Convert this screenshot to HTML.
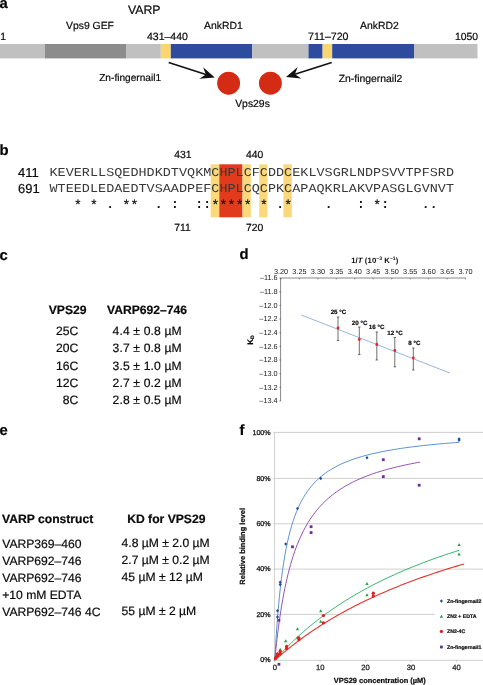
<!DOCTYPE html>
<html><head><meta charset="utf-8"><title>VARP Vps29 figure</title>
<style>
html,body{margin:0;padding:0;background:#fff;}
body{width:483px;height:685px;overflow:hidden;}
svg{display:block;will-change:transform;}
text{font-family:"Liberation Sans",sans-serif;fill:#0a0a0a;stroke:#0a0a0a;stroke-width:0.2px;text-rendering:geometricPrecision;}
.b{font-weight:bold;}
.pl{font-size:14.8px;font-weight:bold;fill:#000;}
.a{font-size:10.4px;}
.t{font-size:12.15px;}
.mono{font-family:"Liberation Mono",monospace;font-size:12px;fill:#383838;stroke:none;}
.ax{font-size:7.3px;stroke:none;fill:#1a1a1a;}
.m{text-anchor:middle;}
.e{text-anchor:end;}
</style></head><body>
<svg width="483" height="685" viewBox="0 0 483 685">
<rect width="483" height="685" fill="#fff"/>

<text class="pl" x="-0.4" y="8.2">a</text>
<text x="128" y="13.6" style="font-size:12.3px">VARP</text>
<rect x="0" y="44" width="45.0" height="14.4" fill="#c0c0c0"/>
<rect x="45" y="44" width="81.5" height="14.4" fill="#8c8c8c"/>
<rect x="126.5" y="44" width="34.3" height="14.4" fill="#c0c0c0"/>
<rect x="160.8" y="44" width="10.0" height="14.4" fill="#fad670"/>
<rect x="170.8" y="44" width="81.5" height="14.4" fill="#2f4b9e"/>
<rect x="252.3" y="44" width="56.2" height="14.4" fill="#c0c0c0"/>
<rect x="308.5" y="44" width="14.1" height="14.4" fill="#2f4b9e"/>
<rect x="322.6" y="44" width="9.6" height="14.4" fill="#fad670"/>
<rect x="332.2" y="44" width="81.8" height="14.4" fill="#2f4b9e"/>
<rect x="414" y="44" width="63.5" height="14.4" fill="#c0c0c0"/>
<text class="a" x="66" y="28.6">Vps9 GEF</text>
<text class="a" x="0.3" y="40.3">1</text>
<text class="a" x="147" y="40.3" style="font-size:10.5px">431–440</text>
<text class="a" x="204" y="28.6">AnkRD1</text>
<text class="a" x="308" y="40.3" style="font-size:10.6px">711–720</text>
<text class="a" x="360" y="28.6">AnkRD2</text>
<text class="a" x="455" y="40.3">1050</text>
<text class="a" x="99.2" y="81.4" style="font-size:10.15px">Zn-fingernail1</text>
<text class="a" x="338.7" y="81.5">Zn-fingernail2</text>
<text class="a" x="235.2" y="107.3">Vps29s</text>
<circle cx="228.6" cy="83.2" r="11.45" fill="#d42c14"/>
<circle cx="270.4" cy="83.2" r="11.45" fill="#d42c14"/>
<line x1="168.7" y1="62.5" x2="205.9" y2="74.5" stroke="#111" stroke-width="1.6"/>
<polygon points="214.8,77.4 199.4,78.7 205.9,74.5 203.1,67.3" fill="#111"/>
<line x1="331.7" y1="62.5" x2="294.9" y2="74.2" stroke="#111" stroke-width="1.6"/>
<polygon points="286.0,77.0 297.7,67.0 294.9,74.2 301.3,78.4" fill="#111"/>
<text class="pl" x="-0.6" y="154.7">b</text>
<rect x="210.7" y="164.3" width="8.6" height="53.0" fill="#fbd879"/>
<rect x="219.3" y="164.3" width="23.2" height="53.0" fill="#e23a1c"/>
<rect x="242.5" y="164.3" width="8.3" height="53.0" fill="#fbd879"/>
<rect x="259.3" y="164.3" width="8.1" height="53.0" fill="#fbd879"/>
<rect x="283.4" y="164.3" width="8.4" height="53.0" fill="#fbd879"/>
<text class="mono m" transform="scale(1.12,1)" x="47.81 55.03 62.25 69.48 76.70 83.92 91.15 98.37 105.59 112.82 120.04 127.26 134.49 141.71 148.93 156.16 163.38 170.60 177.83 185.05 192.27 199.50 206.72 213.94 221.17 228.39 235.61 242.83 250.06 257.28 264.50 271.73 278.95 286.17 293.40 300.62 307.84 315.07 322.29 329.51 336.74 343.96 351.18 358.41 365.63 372.85 380.08 387.30 394.52 401.75" y="176">KEVERLLSQEDHDKDTVQKMCHPLCFCDDCEKLVSGRLNDPSVVTPFSRD</text>
<text class="mono m" transform="scale(1.12,1)" x="47.81 55.03 62.25 69.48 76.70 83.92 91.15 98.37 105.59 112.82 120.04 127.26 134.49 141.71 148.93 156.16 163.38 170.60 177.83 185.05 192.27 199.50 206.72 213.94 221.17 228.39 235.61 242.83 250.06 257.28 264.50 271.73 278.95 286.17 293.40 300.62 307.84 315.07 322.29 329.51 336.74 343.96 351.18 358.41 365.63 372.85 380.08 387.30 394.52 401.75" y="192.3">WTEEDLEDAEDTVSAADPEFCHPLCQCPKCAPAQKRLAKVPASGLGVNVT</text>
<text x="18" y="176.5" style="font-size:13px">411</text>
<text x="18" y="192.8" style="font-size:13px">691</text>
<text class="a" x="174.3" y="158">431</text>
<text class="a" x="246" y="158">440</text>
<text class="a" x="174.3" y="231">711</text>
<text class="a" x="246" y="231">720</text>
<text class="mono m" x="77.81" y="209.0" style="font-size:13px;fill:#111;stroke:#111;stroke-width:0.25px">*</text>
<text class="mono m" x="94.00" y="209.0" style="font-size:13px;fill:#111;stroke:#111;stroke-width:0.25px">*</text>
<text class="mono m" x="110.17" y="208.2" style="font-size:13px;fill:#111;font-weight:bold">.</text>
<text class="mono m" x="126.36" y="209.0" style="font-size:13px;fill:#111;stroke:#111;stroke-width:0.25px">*</text>
<text class="mono m" x="134.44" y="209.0" style="font-size:13px;fill:#111;stroke:#111;stroke-width:0.25px">*</text>
<text class="mono m" x="158.72" y="208.2" style="font-size:13px;fill:#111;font-weight:bold">.</text>
<text class="mono m" x="174.89" y="208.2" style="font-size:13px;fill:#111;font-weight:bold">:</text>
<text class="mono m" x="199.16" y="208.2" style="font-size:13px;fill:#111;font-weight:bold">:</text>
<text class="mono m" x="207.25" y="208.2" style="font-size:13px;fill:#111;font-weight:bold">:</text>
<text class="mono m" x="215.34" y="209.0" style="font-size:13px;fill:#111;stroke:#111;stroke-width:0.25px">*</text>
<text class="mono m" x="223.43" y="209.0" style="font-size:13px;fill:#111;stroke:#111;stroke-width:0.25px">*</text>
<text class="mono m" x="231.52" y="209.0" style="font-size:13px;fill:#111;stroke:#111;stroke-width:0.25px">*</text>
<text class="mono m" x="239.61" y="209.0" style="font-size:13px;fill:#111;stroke:#111;stroke-width:0.25px">*</text>
<text class="mono m" x="247.70" y="209.0" style="font-size:13px;fill:#111;stroke:#111;stroke-width:0.25px">*</text>
<text class="mono m" x="263.89" y="209.0" style="font-size:13px;fill:#111;stroke:#111;stroke-width:0.25px">*</text>
<text class="mono m" x="280.06" y="208.2" style="font-size:13px;fill:#111;font-weight:bold">.</text>
<text class="mono m" x="288.16" y="209.0" style="font-size:13px;fill:#111;stroke:#111;stroke-width:0.25px">*</text>
<text class="mono m" x="328.61" y="208.2" style="font-size:13px;fill:#111;font-weight:bold">.</text>
<text class="mono m" x="360.97" y="208.2" style="font-size:13px;fill:#111;font-weight:bold">:</text>
<text class="mono m" x="377.15" y="209.0" style="font-size:13px;fill:#111;stroke:#111;stroke-width:0.25px">*</text>
<text class="mono m" x="385.24" y="208.2" style="font-size:13px;fill:#111;font-weight:bold">:</text>
<text class="mono m" x="425.69" y="208.2" style="font-size:13px;fill:#111;font-weight:bold">.</text>
<text class="mono m" x="433.78" y="208.2" style="font-size:13px;fill:#111;font-weight:bold">.</text>
<text class="pl" x="-0.4" y="259.9">c</text>
<text class="t b" x="48.7" y="314">VPS29</text>
<text class="t b" x="107" y="314">VARP692–746</text>
<text class="t e" x="78.3" y="335.0">25C</text>
<text class="t" x="112.6" y="335.0" style="letter-spacing:0.13px">4.4 ± 0.8 µM</text>
<text class="t e" x="78.3" y="352.2">20C</text>
<text class="t" x="112.6" y="352.2" style="letter-spacing:0.13px">3.7 ± 0.8 µM</text>
<text class="t e" x="78.3" y="369.5">16C</text>
<text class="t" x="112.6" y="369.5" style="letter-spacing:0.13px">3.5 ± 1.0 µM</text>
<text class="t e" x="78.3" y="386.8">12C</text>
<text class="t" x="112.6" y="386.8" style="letter-spacing:0.13px">2.7 ± 0.2 µM</text>
<text class="t e" x="78.3" y="404.0">8C</text>
<text class="t" x="112.6" y="404.0" style="letter-spacing:0.13px">2.8 ± 0.5 µM</text>
<text class="pl" x="-0.4" y="434.9">e</text>
<text class="t b" x="2.0" y="523.2">VARP construct</text>
<text class="t b" x="127.2" y="523.2">KD for VPS29</text>
<text class="t" x="2.2" y="547.6">VARP369–460</text>
<text class="t" x="121.6" y="547.0">4.8 µM ± 2.0 µM</text>
<text class="t" x="2.2" y="564.6">VARP692–746</text>
<text class="t" x="121.6" y="564.0">2.7 µM ± 0.2 µM</text>
<text class="t" x="2.2" y="581.6">VARP692–746</text>
<text class="t" x="121.6" y="581.0">45 µM ± 12 µM</text>
<text class="t" x="2.2" y="598.6">+10 mM EDTA</text>
<text class="t" x="2.2" y="615.6">VARP692–746 4C</text>
<text class="t" x="121.6" y="615.0">55 µM ± 2 µM</text>
<text class="pl" x="239.6" y="259">d</text>
<text class="b m" x="374.8" y="262.5" style="font-size:7.7px;stroke:none;letter-spacing:0.1px">1/<tspan font-style="italic">T</tspan> (10<tspan dy="-2.4" style="font-size:5px">–3</tspan><tspan dy="2.4"> K</tspan><tspan dy="-2.4" style="font-size:5px">–1</tspan><tspan dy="2.4">)</tspan></text>
<path d="M280.6,401.0V278H466" fill="none" stroke="#606060" stroke-width="0.75"/>
<text class="ax m" x="281.0" y="274.4">3.20</text>
<line x1="281.0" y1="278" x2="281.0" y2="279.5" stroke="#555" stroke-width="0.6"/>
<text class="ax m" x="299.4" y="274.4">3.25</text>
<line x1="299.4" y1="278" x2="299.4" y2="279.5" stroke="#555" stroke-width="0.6"/>
<text class="ax m" x="317.9" y="274.4">3.30</text>
<line x1="317.9" y1="278" x2="317.9" y2="279.5" stroke="#555" stroke-width="0.6"/>
<text class="ax m" x="336.3" y="274.4">3.35</text>
<line x1="336.3" y1="278" x2="336.3" y2="279.5" stroke="#555" stroke-width="0.6"/>
<text class="ax m" x="354.8" y="274.4">3.40</text>
<line x1="354.8" y1="278" x2="354.8" y2="279.5" stroke="#555" stroke-width="0.6"/>
<text class="ax m" x="373.2" y="274.4">3.45</text>
<line x1="373.2" y1="278" x2="373.2" y2="279.5" stroke="#555" stroke-width="0.6"/>
<text class="ax m" x="391.7" y="274.4">3.50</text>
<line x1="391.7" y1="278" x2="391.7" y2="279.5" stroke="#555" stroke-width="0.6"/>
<text class="ax m" x="410.2" y="274.4">3.55</text>
<line x1="410.2" y1="278" x2="410.2" y2="279.5" stroke="#555" stroke-width="0.6"/>
<text class="ax m" x="428.6" y="274.4">3.60</text>
<line x1="428.6" y1="278" x2="428.6" y2="279.5" stroke="#555" stroke-width="0.6"/>
<text class="ax m" x="447.1" y="274.4">3.65</text>
<line x1="447.1" y1="278" x2="447.1" y2="279.5" stroke="#555" stroke-width="0.6"/>
<text class="ax m" x="465.5" y="274.4">3.70</text>
<line x1="465.5" y1="278" x2="465.5" y2="279.5" stroke="#555" stroke-width="0.6"/>
<text class="ax e" x="277.6" y="280.2">–11.6</text>
<line x1="279.3" y1="278.0" x2="281" y2="278.0" stroke="#555" stroke-width="0.6"/>
<text class="ax e" x="277.6" y="293.9">–11.8</text>
<line x1="279.3" y1="291.7" x2="281" y2="291.7" stroke="#555" stroke-width="0.6"/>
<text class="ax e" x="277.6" y="307.5">–12.0</text>
<line x1="279.3" y1="305.3" x2="281" y2="305.3" stroke="#555" stroke-width="0.6"/>
<text class="ax e" x="277.6" y="321.2">–12.2</text>
<line x1="279.3" y1="319.0" x2="281" y2="319.0" stroke="#555" stroke-width="0.6"/>
<text class="ax e" x="277.6" y="334.9">–12.4</text>
<line x1="279.3" y1="332.7" x2="281" y2="332.7" stroke="#555" stroke-width="0.6"/>
<text class="ax e" x="277.6" y="348.6">–12.6</text>
<line x1="279.3" y1="346.4" x2="281" y2="346.4" stroke="#555" stroke-width="0.6"/>
<text class="ax e" x="277.6" y="362.2">–12.8</text>
<line x1="279.3" y1="360.0" x2="281" y2="360.0" stroke="#555" stroke-width="0.6"/>
<text class="ax e" x="277.6" y="375.9">–13.0</text>
<line x1="279.3" y1="373.7" x2="281" y2="373.7" stroke="#555" stroke-width="0.6"/>
<text class="ax e" x="277.6" y="389.6">–13.2</text>
<line x1="279.3" y1="387.4" x2="281" y2="387.4" stroke="#555" stroke-width="0.6"/>
<text class="ax e" x="277.6" y="403.2">–13.4</text>
<line x1="279.3" y1="401.0" x2="281" y2="401.0" stroke="#555" stroke-width="0.6"/>
<text class="b m" transform="translate(252.9,340) rotate(-90)" style="font-size:8px">K<tspan dy="1.5" style="font-size:5px">D</tspan></text>
<line x1="301.3" y1="315" x2="449.8" y2="373" stroke="#7ea3d6" stroke-width="0.8"/>
<path d="M336.8,317h2.4M338,317V340.5M336.8,340.5h2.4" stroke="#333" stroke-width="0.7" fill="none"/>
<circle cx="338" cy="328" r="1.4" fill="#e8202a"/>
<text class="b m" x="338.4" y="314.3" style="font-size:6.2px">25 °C</text>
<path d="M358.1,327h2.4M359.3,327V354.5M358.1,354.5h2.4" stroke="#333" stroke-width="0.7" fill="none"/>
<circle cx="359.3" cy="339.5" r="1.4" fill="#e8202a"/>
<text class="b m" x="359.6" y="324.5" style="font-size:6.2px">20 °C</text>
<path d="M375.6,332h2.4M376.8,332V360M375.6,360h2.4" stroke="#333" stroke-width="0.7" fill="none"/>
<circle cx="376.8" cy="344.5" r="1.4" fill="#e8202a"/>
<text class="b m" x="376.6" y="328.8" style="font-size:6.2px">16 °C</text>
<path d="M393.6,337.5h2.4M394.8,337.5V366.8M393.6,366.8h2.4" stroke="#333" stroke-width="0.7" fill="none"/>
<circle cx="394.8" cy="350.5" r="1.4" fill="#e8202a"/>
<text class="b m" x="395" y="335" style="font-size:6.2px">12 °C</text>
<path d="M412.1,348h2.4M413.3,348V370M412.1,370h2.4" stroke="#333" stroke-width="0.7" fill="none"/>
<circle cx="413.3" cy="358" r="1.4" fill="#e8202a"/>
<text class="b m" x="414.4" y="345" style="font-size:6.2px">8 °C</text>
<text class="pl" x="239.4" y="434.8">f</text>
<line x1="273" y1="660.3" x2="483" y2="660.3" stroke="#cfcfcf" stroke-width="1"/>
<text class="ax e" x="270.6" y="662.4" style="font-size:7.1px;stroke:#1a1a1a;stroke-width:0.3px">0%</text>
<line x1="273" y1="614.4" x2="435" y2="614.4" stroke="#cfcfcf" stroke-width="1"/>
<text class="ax e" x="270.6" y="616.5" style="font-size:7.1px;stroke:#1a1a1a;stroke-width:0.3px">20%</text>
<line x1="273" y1="569.1" x2="483" y2="569.1" stroke="#cfcfcf" stroke-width="1"/>
<text class="ax e" x="270.6" y="571.2" style="font-size:7.1px;stroke:#1a1a1a;stroke-width:0.3px">40%</text>
<line x1="273" y1="523.8" x2="483" y2="523.8" stroke="#cfcfcf" stroke-width="1"/>
<text class="ax e" x="270.6" y="525.9" style="font-size:7.1px;stroke:#1a1a1a;stroke-width:0.3px">60%</text>
<line x1="273" y1="478.4" x2="483" y2="478.4" stroke="#cfcfcf" stroke-width="1"/>
<text class="ax e" x="270.6" y="480.5" style="font-size:7.1px;stroke:#1a1a1a;stroke-width:0.3px">80%</text>
<line x1="273" y1="432.4" x2="483" y2="432.4" stroke="#cfcfcf" stroke-width="1"/>
<text class="ax e" x="270.6" y="434.5" style="font-size:7.1px;stroke:#1a1a1a;stroke-width:0.3px">100%</text>
<line x1="274.6" y1="432.4" x2="274.6" y2="661.8" stroke="#c4c4c4" stroke-width="0.8"/>
<line x1="274.8" y1="660.2" x2="274.8" y2="662.0" stroke="#c4c4c4" stroke-width="0.8"/>
<text class="ax m" x="274.8" y="669.8" style="font-size:7.6px;stroke:#1a1a1a;stroke-width:0.25">0</text>
<line x1="320.2" y1="660.2" x2="320.2" y2="662.0" stroke="#c4c4c4" stroke-width="0.8"/>
<text class="ax m" x="320.2" y="669.8" style="font-size:7.6px;stroke:#1a1a1a;stroke-width:0.25">10</text>
<line x1="365.6" y1="660.2" x2="365.6" y2="662.0" stroke="#c4c4c4" stroke-width="0.8"/>
<text class="ax m" x="365.6" y="669.8" style="font-size:7.6px;stroke:#1a1a1a;stroke-width:0.25">20</text>
<line x1="411.0" y1="660.2" x2="411.0" y2="662.0" stroke="#c4c4c4" stroke-width="0.8"/>
<text class="ax m" x="411.0" y="669.8" style="font-size:7.6px;stroke:#1a1a1a;stroke-width:0.25">30</text>
<line x1="456.4" y1="660.2" x2="456.4" y2="662.0" stroke="#c4c4c4" stroke-width="0.8"/>
<text class="ax m" x="456.4" y="669.8" style="font-size:7.6px;stroke:#1a1a1a;stroke-width:0.25">40</text>
<text class="b m" x="379.8" y="683.4" style="font-size:7.45px">VPS29 concentration (µM)</text>
<text class="b m" transform="translate(245.2,546.3) rotate(-90)" style="font-size:7.5px">Relative binding level</text>
<polyline points="274.80,660.20 274.93,658.84 275.20,656.12 275.56,652.53 276.00,648.27 276.52,643.53 277.10,638.43 277.75,633.06 278.45,627.52 279.21,621.89 280.02,616.21 280.87,610.54 281.78,604.93 282.74,599.39 283.73,593.96 284.78,588.66 285.86,583.50 286.99,578.49 288.16,573.63 289.36,568.95 290.61,564.42 291.89,560.06 293.21,555.87 294.57,551.84 295.96,547.96 297.39,544.25 298.86,540.68 300.35,537.25 301.88,533.97 303.45,530.82 305.05,527.80 306.67,524.90 308.34,522.12 310.03,519.46 311.75,516.91 313.51,514.46 315.29,512.11 317.10,509.85 318.95,507.68 320.82,505.60 322.72,503.61 324.66,501.69 326.62,499.84 328.60,498.07 330.62,496.36 332.66,494.72 334.73,493.14 336.83,491.62 338.96,490.16 341.11,488.75 343.29,487.39 345.49,486.08 347.72,484.81 349.98,483.59 352.26,482.42 354.57,481.28 356.90,480.18 359.26,479.12 361.65,478.10 364.05,477.10 366.49,476.15 368.94,475.22 371.42,474.32 373.93,473.45 376.46,472.61 379.01,471.80 381.59,471.01 384.19,470.24 386.81,469.50 389.46,468.78 392.13,468.08 394.83,467.40 397.54,466.75 400.28,466.11 403.04,465.49 405.83,464.88 408.63,464.30 411.46,463.73 414.31,463.18 417.19,462.64 420.08,462.11" fill="none" stroke="#8b3fa8" stroke-width="0.9" stroke-linejoin="round"/>
<polyline points="274.80,660.20 274.97,657.09 275.30,651.03 275.76,643.26 276.33,634.46 276.98,625.08 277.72,615.47 278.54,605.89 279.43,596.50 280.39,587.42 281.42,578.75 282.51,570.51 283.66,562.73 284.87,555.42 286.14,548.56 287.46,542.15 288.84,536.17 290.27,530.58 291.75,525.37 293.28,520.51 294.86,515.98 296.49,511.75 298.16,507.80 299.88,504.12 301.65,500.67 303.46,497.44 305.32,494.42 307.22,491.59 309.16,488.94 311.15,486.44 313.17,484.10 315.24,481.89 317.35,479.81 319.50,477.85 321.68,476.00 323.91,474.26 326.17,472.61 328.47,471.04 330.81,469.56 333.19,468.16 335.60,466.83 338.05,465.56 340.54,464.36 343.06,463.22 345.62,462.13 348.21,461.09 350.84,460.10 353.50,459.16 356.20,458.25 358.93,457.39 361.69,456.57 364.49,455.78 367.32,455.03 370.18,454.30 373.08,453.61 376.01,452.95 378.97,452.31 381.96,451.69 384.99,451.11 388.04,450.54 391.13,449.99 394.24,449.47 397.39,448.97 400.57,448.48 403.78,448.01 407.02,447.56 410.29,447.12 413.59,446.70 416.92,446.29 420.28,445.90 423.67,445.52 427.08,445.15 430.53,444.80 434.00,444.46 437.51,444.12 441.04,443.80 444.60,443.49 448.19,443.19 451.81,442.89 455.45,442.61 459.12,442.33" fill="none" stroke="#4a86cf" stroke-width="0.9" stroke-linejoin="round"/>
<polyline points="274.80,660.20 274.97,660.01 275.30,659.63 275.76,659.11 276.33,658.48 276.98,657.75 277.72,656.93 278.54,656.04 279.43,655.07 280.39,654.03 281.42,652.93 282.51,651.78 283.66,650.57 284.87,649.32 286.14,648.02 287.46,646.68 288.84,645.31 290.27,643.90 291.75,642.46 293.28,640.98 294.86,639.49 296.49,637.97 298.16,636.43 299.88,634.87 301.65,633.29 303.46,631.69 305.32,630.09 307.22,628.47 309.16,626.84 311.15,625.21 313.17,623.57 315.24,621.92 317.35,620.27 319.50,618.61 321.68,616.96 323.91,615.30 326.17,613.65 328.47,612.00 330.81,610.35 333.19,608.70 335.60,607.06 338.05,605.43 340.54,603.80 343.06,602.18 345.62,600.56 348.21,598.96 350.84,597.36 353.50,595.77 356.20,594.19 358.93,592.63 361.69,591.07 364.49,589.52 367.32,587.99 370.18,586.46 373.08,584.95 376.01,583.45 378.97,581.96 381.96,580.49 384.99,579.03 388.04,577.58 391.13,576.15 394.24,574.73 397.39,573.32 400.57,571.92 403.78,570.54 407.02,569.17 410.29,567.82 413.59,566.48 416.92,565.16 420.28,563.84 423.67,562.55 427.08,561.26 430.53,559.99 434.00,558.73 437.51,557.49 441.04,556.26 444.60,555.05 448.19,553.84 451.81,552.66 455.45,551.48 459.12,550.32" fill="none" stroke="#35b56b" stroke-width="1.0" stroke-linejoin="round"/>
<polyline points="274.80,660.20 274.97,660.05 275.32,659.74 275.79,659.32 276.37,658.81 277.04,658.21 277.80,657.55 278.64,656.82 279.56,656.03 280.54,655.18 281.60,654.29 282.72,653.34 283.90,652.35 285.14,651.32 286.44,650.25 287.80,649.15 289.22,648.02 290.68,646.85 292.21,645.65 293.78,644.43 295.40,643.19 297.07,641.92 298.80,640.63 300.56,639.32 302.38,638.00 304.24,636.65 306.15,635.30 308.10,633.93 310.09,632.55 312.13,631.16 314.21,629.77 316.34,628.36 318.50,626.95 320.71,625.53 322.95,624.11 325.24,622.68 327.56,621.26 329.93,619.83 332.33,618.40 334.77,616.97 337.25,615.54 339.77,614.11 342.32,612.68 344.91,611.26 347.54,609.84 350.20,608.42 352.90,607.01 355.64,605.60 358.41,604.20 361.21,602.81 364.05,601.42 366.92,600.04 369.83,598.66 372.77,597.29 375.74,595.93 378.75,594.58 381.79,593.24 384.86,591.90 387.97,590.58 391.11,589.26 394.28,587.95 397.48,586.65 400.71,585.36 403.98,584.08 407.28,582.82 410.60,581.56 413.96,580.31 417.35,579.07 420.77,577.84 424.22,576.62 427.70,575.42 431.21,574.22 434.75,573.03 438.32,571.86 441.92,570.69 445.54,569.54 449.20,568.40 452.89,567.26 456.60,566.14 460.35,565.03 464.12,563.93" fill="none" stroke="#e8332e" stroke-width="1.1" stroke-linejoin="round"/>
<rect x="277.5" y="618.9" width="2.8" height="2.8" fill="#6b2f96"/>
<rect x="277.5" y="662.9" width="2.8" height="2.8" fill="#6b2f96"/>
<rect x="291.1" y="545.4" width="2.8" height="2.8" fill="#6b2f96"/>
<rect x="309.7" y="525.3" width="2.8" height="2.8" fill="#6b2f96"/>
<rect x="309.7" y="531.2" width="2.8" height="2.8" fill="#6b2f96"/>
<rect x="381.9" y="458.3" width="2.8" height="2.8" fill="#6b2f96"/>
<rect x="381.9" y="475.2" width="2.8" height="2.8" fill="#6b2f96"/>
<rect x="417.8" y="437.4" width="2.8" height="2.8" fill="#6b2f96"/>
<rect x="417.8" y="483.8" width="2.8" height="2.8" fill="#6b2f96"/>
<path d="M277.5,609.0l1.53,1.8l-1.53,1.8l-1.53,-1.8z" fill="#1f4e9c"/>
<path d="M277.5,615.1l1.53,1.8l-1.53,1.8l-1.53,-1.8z" fill="#1f4e9c"/>
<path d="M280.2,580.5l1.53,1.8l-1.53,1.8l-1.53,-1.8z" fill="#1f4e9c"/>
<path d="M280.2,582.8l1.53,1.8l-1.53,1.8l-1.53,-1.8z" fill="#1f4e9c"/>
<path d="M285.7,542.2l1.53,1.8l-1.53,1.8l-1.53,-1.8z" fill="#1f4e9c"/>
<path d="M297.5,506.7l1.53,1.8l-1.53,1.8l-1.53,-1.8z" fill="#1f4e9c"/>
<path d="M320.7,476.6l1.53,1.8l-1.53,1.8l-1.53,-1.8z" fill="#1f4e9c"/>
<path d="M367.0,455.9l1.53,1.8l-1.53,1.8l-1.53,-1.8z" fill="#1f4e9c"/>
<path d="M459.1,437.2l1.53,1.8l-1.53,1.8l-1.53,-1.8z" fill="#1f4e9c"/>
<path d="M459.1,438.3l1.53,1.8l-1.53,1.8l-1.53,-1.8z" fill="#1f4e9c"/>
<path d="M280.2,647.7l1.66,2.98h-3.32z" fill="#22a24a"/>
<path d="M285.7,639.3l1.66,2.98h-3.32z" fill="#22a24a"/>
<path d="M297.5,627.2l1.66,2.98h-3.32z" fill="#22a24a"/>
<path d="M297.5,635.7l1.66,2.98h-3.32z" fill="#22a24a"/>
<path d="M320.7,609.2l1.66,2.98h-3.32z" fill="#22a24a"/>
<path d="M320.7,619.7l1.66,2.98h-3.32z" fill="#22a24a"/>
<path d="M367.0,581.9l1.66,2.98h-3.32z" fill="#22a24a"/>
<path d="M367.0,593.3l1.66,2.98h-3.32z" fill="#22a24a"/>
<path d="M459.1,543.0l1.66,2.98h-3.32z" fill="#22a24a"/>
<path d="M459.1,552.5l1.66,2.98h-3.32z" fill="#22a24a"/>
<path d="M277.5,652.5l1.66,2.98h-3.32z" fill="#22a24a"/>
<circle cx="275.5" cy="658.4" r="1.65" fill="#e3201f"/>
<circle cx="276.2" cy="657.2" r="1.65" fill="#e3201f"/>
<circle cx="277.5" cy="655.9" r="1.65" fill="#e3201f"/>
<circle cx="277.5" cy="653.8" r="1.65" fill="#e3201f"/>
<circle cx="280.2" cy="653.8" r="1.65" fill="#e3201f"/>
<circle cx="280.2" cy="651.5" r="1.65" fill="#e3201f"/>
<circle cx="286.6" cy="648.4" r="1.65" fill="#e3201f"/>
<circle cx="286.6" cy="646.5" r="1.65" fill="#e3201f"/>
<circle cx="298.9" cy="639.7" r="1.65" fill="#e3201f"/>
<circle cx="298.9" cy="637.9" r="1.65" fill="#e3201f"/>
<circle cx="323.4" cy="615.6" r="1.65" fill="#e3201f"/>
<circle cx="323.4" cy="622.8" r="1.65" fill="#e3201f"/>
<circle cx="373.3" cy="593.2" r="1.65" fill="#e3201f"/>
<circle cx="373.3" cy="596.0" r="1.65" fill="#e3201f"/>
<rect x="436" y="592" width="47" height="62" fill="#fff"/>
<path d="M441.4,599.2l1.53,1.8l-1.53,1.8l-1.53,-1.8z" fill="#1f4e9c"/>
<text class="b" x="447" y="602.9" style="font-size:5.2px">Zn-fingernail2</text>
<path d="M441.4,614.8l1.66,2.98h-3.32z" fill="#22a24a"/>
<text class="b" x="447" y="618.4" style="font-size:5.2px">ZN2 + EDTA</text>
<circle cx="441.4" cy="631.4" r="1.65" fill="#e3201f"/>
<text class="b" x="447" y="633.3" style="font-size:5.2px">ZN2-4C</text>
<rect x="440.0" y="645.6" width="2.8" height="2.8" fill="#6b2f96"/>
<text class="b" x="447" y="648.9" style="font-size:5.2px">Zn-fingernail1</text>
</svg></body></html>
